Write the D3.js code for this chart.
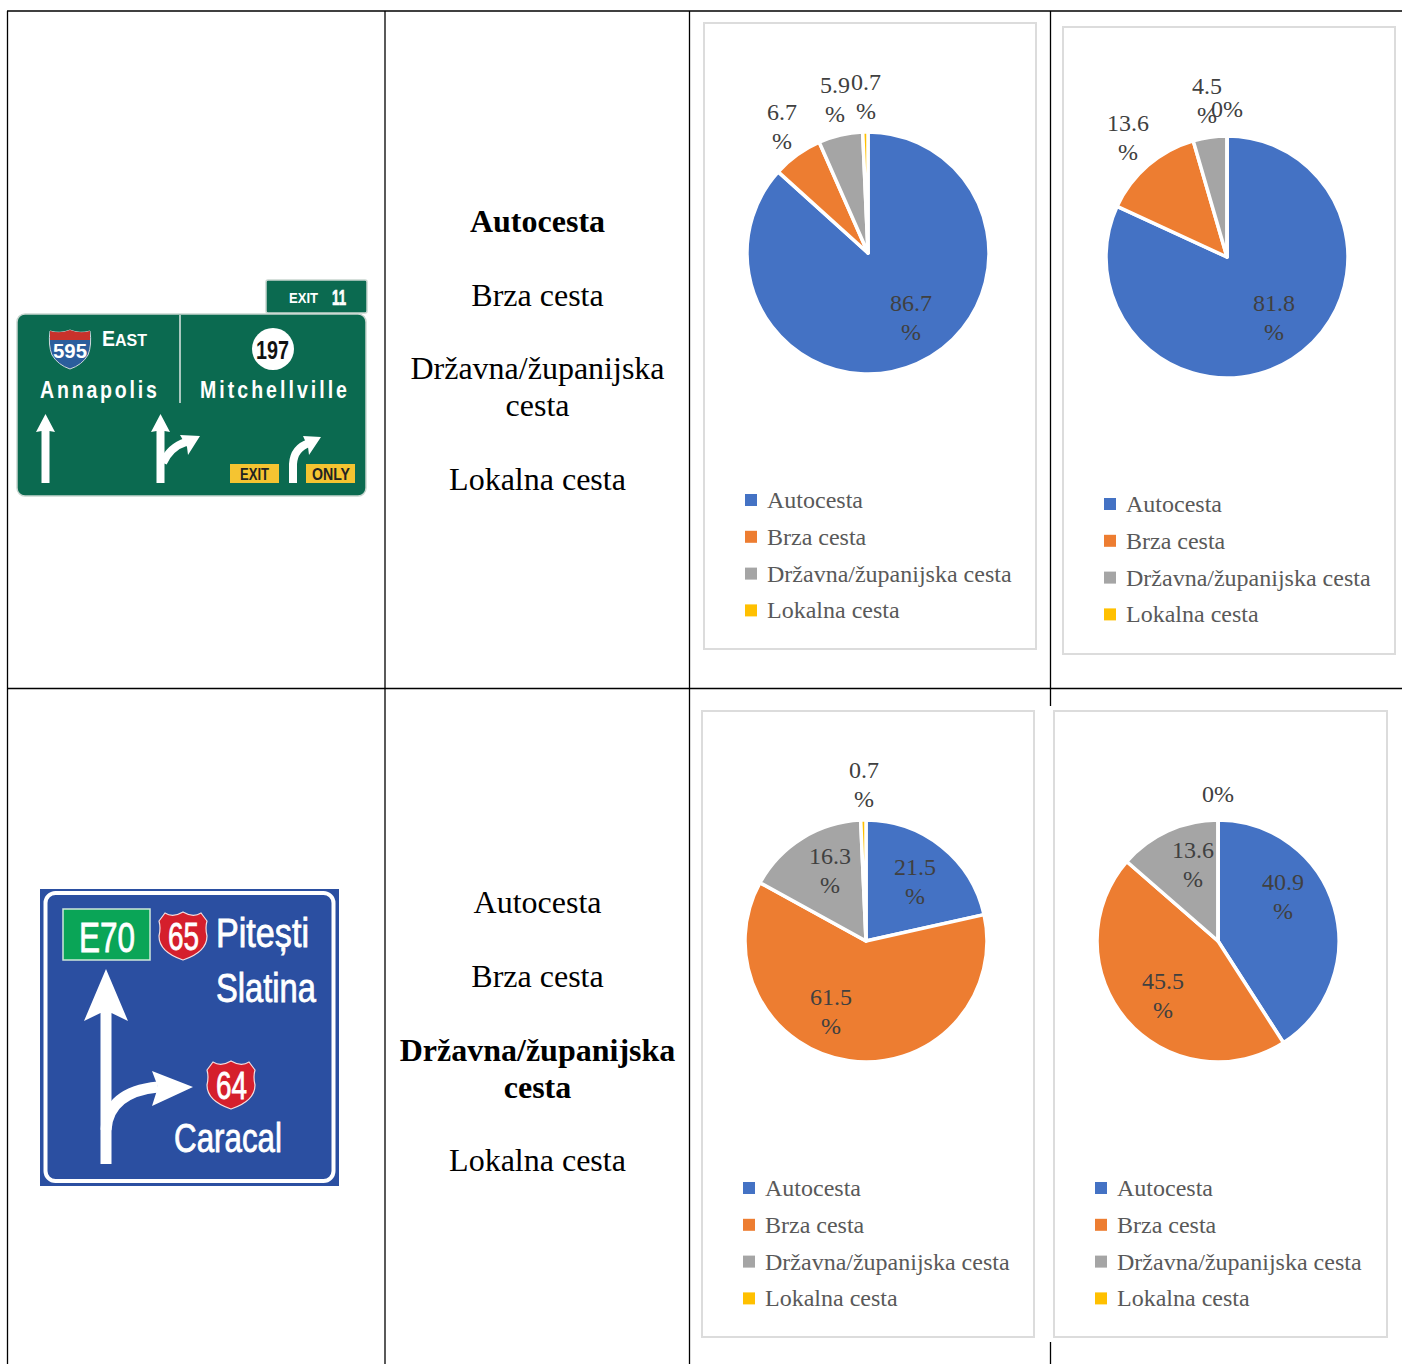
<!DOCTYPE html>
<html>
<head>
<meta charset="utf-8">
<script src="https://cdn.jsdelivr.net/npm/d3@7"></script>
<style>
  html, body { margin: 0; padding: 0; background: #fff; }
  svg { display: block; }
  text { font-family: "Liberation Serif", serif; }
  .sign text { font-family: "Liberation Sans", sans-serif; font-weight: bold; }
</style>
</head>
<body>
<div id="chart"></div>
<script>
// Data
const categories = ["Autocesta", "Brza cesta", "Državna/županijska cesta", "Lokalna cesta"];
const valuesA = [86.7, 6.7, 5.9, 0.7];
const valuesB = [81.8, 13.6, 4.5, 0];
const valuesC = [21.5, 61.5, 16.3, 0.7];
const valuesD = [40.9, 45.5, 13.6, 0];
const roadRows = [
    ["Autocesta", "Brza cesta", "Državna/županijska", "cesta", "Lokalna cesta"],
    ["Autocesta", "Brza cesta", "Državna/županijska", "cesta", "Lokalna cesta"]
];

const sliceColors = ["#4472c4", "#ed7d31", "#a5a5a5", "#ffc000"];

// Chart layout, one entry per pie
const panels = [
    { values: valuesA, frame: [704, 23, 332, 626], cx: 868, cy: 253, legendX: 745, legendY: 500,
      labels: [[911, 303], [782, 112], [835, 85], [866, 82]] },
    { values: valuesB, frame: [1063, 27, 332, 627], cx: 1227, cy: 257, legendX: 1104, legendY: 504,
      labels: [[1274, 303], [1128, 123], [1207, 86], [1227, 109]] },
    { values: valuesC, frame: [702, 711, 332, 626], cx: 866, cy: 941, legendX: 743, legendY: 1188,
      labels: [[915, 867], [831, 997], [830, 856], [864, 770]] },
    { values: valuesD, frame: [1054, 711, 333, 626], cx: 1218, cy: 941, legendX: 1095, legendY: 1188,
      labels: [[1283, 882], [1163, 981], [1193, 850], [1218, 794]] }
];

const width = 1402, height = 1364;
const svg = d3.select("#chart").append("svg")
    .attr("width", width)
    .attr("height", height)
    .attr("viewBox", `0 0 ${width} ${height}`);

// Table lines
const tableLines = [
    [7.5, 11, 7.5, 1364], [385, 11, 385, 1364], [689.5, 11, 689.5, 1364],
    [1050.5, 11, 1050.5, 706], [1050.5, 1342, 1050.5, 1364],
    [7, 11, 1402, 11], [7, 688.5, 1402, 688.5]
];
svg.append("g").selectAll("line").data(tableLines).join("line")
    .attr("x1", d => d[0]).attr("y1", d => d[1])
    .attr("x2", d => d[2]).attr("y2", d => d[3])
    .attr("stroke", "#000").attr("stroke-width", 1.3);

// Middle column
const midColumn = [
    { y: [232, 306, 379, 416, 490], bold: [0] },
    { y: [913, 987, 1061, 1098, 1171], bold: [2, 3] }
];
midColumn.forEach((col, i) => {
    svg.append("g").selectAll("text").data(roadRows[i]).join("text")
        .attr("x", 537.5)
        .attr("y", (d, j) => col.y[j])
        .attr("text-anchor", "middle")
        .attr("font-size", 32)
        .attr("font-weight", (d, j) => col.bold.includes(j) ? "bold" : "normal")
        .attr("fill", "#000")
        .text(d => d);
});

// Pies
const pie = d3.pie().sort(null);
const arc = d3.arc().innerRadius(0).outerRadius(121);
const color = d3.scaleOrdinal().domain(categories).range(sliceColors);

panels.forEach(p => {
    const g = svg.append("g");

    g.append("rect")
        .attr("x", p.frame[0]).attr("y", p.frame[1])
        .attr("width", p.frame[2]).attr("height", p.frame[3])
        .attr("fill", "#fff").attr("stroke", "#dcdcdc").attr("stroke-width", 2);

    g.append("g").attr("transform", `translate(${p.cx},${p.cy})`)
        .selectAll("path").data(pie(p.values)).join("path")
        .attr("d", arc)
        .attr("fill", (d, i) => color(categories[i]))
        .attr("stroke", "#fff")
        .attr("stroke-width", 3.5)
        .attr("stroke-linejoin", "round");

    // Data labels, number above the percent sign like the wrapped Excel ones
    const lab = g.append("g").selectAll("text").data(p.values).join("text")
        .attr("text-anchor", "middle")
        .attr("font-size", 24)
        .attr("fill", "#404040");
    lab.each(function(v, i) {
        const t = d3.select(this), pos = p.labels[i];
        if (v === 0) {
            t.append("tspan").attr("x", pos[0]).attr("y", pos[1] + 8).text("0%");
        } else {
            t.append("tspan").attr("x", pos[0]).attr("y", pos[1] + 8).text(v);
            t.append("tspan").attr("x", pos[0]).attr("y", pos[1] + 37).text("%");
        }
    });

    // Legend
    const leg = g.append("g").selectAll("g").data(categories).join("g")
        .attr("transform", (d, i) => `translate(${p.legendX},${p.legendY + i * 36.8})`);
    leg.append("rect")
        .attr("x", 0).attr("y", -6).attr("width", 12).attr("height", 12)
        .attr("fill", d => color(d));
    leg.append("text")
        .attr("x", 22).attr("y", 8)
        .attr("font-size", 24)
        .attr("fill", "#595959")
        .text(d => d);
});

// Sign helpers
function signText(g, s, x, y, size, w, fill) {
    return g.append("text").attr("x", x).attr("y", y)
        .attr("font-size", size)
        .attr("fill", fill || "#fff")
        .attr("textLength", w)
        .attr("lengthAdjust", "spacingAndGlyphs")
        .text(s);
}
// narrow glyphs with wide tracking, the place names on the green sign
function trackedText(g, s, x, y, size, w) {
    const sx = 0.85;
    return g.append("text")
        .attr("transform", `translate(${x},${y}) scale(${sx},1)`)
        .attr("font-size", size)
        .attr("fill", "#fff")
        .attr("textLength", w / sx)
        .attr("lengthAdjust", "spacing")
        .text(s);
}
function drawPath(g, d, fill, stroke, sw) {
    return g.append("path").attr("d", d)
        .attr("fill", fill || "none")
        .attr("stroke", stroke || "none")
        .attr("stroke-width", sw || 0);
}

// Green motorway sign
const s1 = svg.append("g").attr("class", "sign");
const green = "#0b6a50";
s1.append("rect").attr("x", 266).attr("y", 280).attr("width", 101).attr("height", 33).attr("rx", 2)
    .attr("fill", green).attr("stroke", "#c9d6d0").attr("stroke-width", 1.5);
s1.append("rect").attr("x", 17).attr("y", 314).attr("width", 349).attr("height", 182).attr("rx", 8)
    .attr("fill", green).attr("stroke", "#c9d6d0").attr("stroke-width", 1.5);
s1.append("line").attr("x1", 180).attr("y1", 315).attr("x2", 180).attr("y2", 403)
    .attr("stroke", "#dfe9e5").attr("stroke-width", 1.5);
signText(s1, "EXIT", 289, 303, 15, 29);
signText(s1, "11", 332, 305, 22, 14).attr("stroke", "#fff").attr("stroke-width", 0.7);

// interstate shield
drawPath(s1, "M50 331 Q60 334 70 330 Q80 334 90 331 Q92 345 88 355 Q82 365 70 369 Q58 365 52 355 Q48 345 50 331 Z", "#2b5d9c", "#cfd8dc", 1);
drawPath(s1, "M50 331 Q60 334 70 330 Q80 334 90 331 L90 340 L50 340 Z", "#c8322b");
signText(s1, "595", 53, 358, 21, 34);
signText(s1, "E", 102, 346, 22, 13);
signText(s1, "AST", 115, 346, 17, 32);
s1.append("circle").attr("cx", 273).attr("cy", 349).attr("r", 21).attr("fill", "#fff");
signText(s1, "197", 256, 359, 25, 33, "#111");
trackedText(s1, "Annapolis", 40, 398, 23, 117);
trackedText(s1, "Mitchellville", 200, 398, 23, 147);

// arrows
drawPath(s1, "M36 432 L45.5 414 L55 432 L49.5 431 L49.5 483 L41.5 483 L41.5 431 Z", "#fff");
drawPath(s1, "M151 432 L160.5 414 L170 432 L164.5 431 L164.5 483 L156.5 483 L156.5 431 Z", "#fff");
drawPath(s1, "M163 463 Q170 447 186 442", "none", "#fff", 8);
drawPath(s1, "M180 435 L200 436 L188 455 L187 447 Z", "#fff");
drawPath(s1, "M293 483 L293 464 Q294 448 309 443", "none", "#fff", 8);
drawPath(s1, "M303 436 L321 437 L309 455 L308 447 Z", "#fff");

s1.append("rect").attr("x", 230).attr("y", 464).attr("width", 49).attr("height", 19).attr("fill", "#f5c431");
s1.append("rect").attr("x", 306).attr("y", 464).attr("width", 49).attr("height", 19).attr("fill", "#f5c431");
signText(s1, "EXIT", 240, 480, 16, 29, "#222");
signText(s1, "ONLY", 312, 480, 16, 38, "#222");

// Blue Romanian sign
const s2 = svg.append("g").attr("class", "sign");
s2.append("rect").attr("x", 40).attr("y", 889).attr("width", 299).attr("height", 297).attr("fill", "#2b4fa1");
s2.append("rect").attr("x", 45.5).attr("y", 893).attr("width", 288).attr("height", 288).attr("rx", 10)
    .attr("fill", "none").attr("stroke", "#fff").attr("stroke-width", 4);
s2.append("rect").attr("x", 63).attr("y", 909).attr("width", 87).attr("height", 51)
    .attr("fill", "#0aa557").attr("stroke", "#cfe8da").attr("stroke-width", 1.5);
signText(s2, "E70", 79, 952, 42, 56).style("font-weight", "normal").attr("stroke", "#fff").attr("stroke-width", 0.8);

const shieldPath = (x, y) => `M${x} ${y - 24} Q${x + 10} ${y - 18} ${x + 18} ${y - 23} L${x + 24} ${y - 15} Q${x + 22} ${y - 8} ${x + 24} ${y} Q${x + 24} ${y + 16} ${x} ${y + 24} Q${x - 24} ${y + 16} ${x - 24} ${y} Q${x - 22} ${y - 8} ${x - 24} ${y - 15} L${x - 18} ${y - 23} Q${x - 10} ${y - 18} ${x} ${y - 24} Z`;
drawPath(s2, shieldPath(183, 936), "#d51f2c", "#f4dfe0", 1.2);
drawPath(s2, shieldPath(231, 1085), "#d51f2c", "#f4dfe0", 1.2);
signText(s2, "65", 168, 950, 38, 31).style("font-weight", "normal").attr("stroke", "#fff").attr("stroke-width", 0.8);
signText(s2, "64", 216, 1099, 38, 31).style("font-weight", "normal").attr("stroke", "#fff").attr("stroke-width", 0.8);
[["Pitești", 216, 947, 93], ["Slatina", 216, 1002, 100], ["Caracal", 174, 1152, 108]].forEach(t => {
    signText(s2, t[0], t[1], t[2], 40, t[3]).style("font-weight", "normal").attr("stroke", "#fff").attr("stroke-width", 0.8);
});

drawPath(s2, "M106 969 L128 1021 L111.5 1013 L111.5 1164 L100.5 1164 L100.5 1013 L84 1021 Z", "#fff");
drawPath(s2, "M106 1130 Q108 1092 158 1087", "none", "#fff", 11);
drawPath(s2, "M152 1071 L193 1087 L152 1106 L158 1087 Z", "#fff");
</script>
</body>
</html>
